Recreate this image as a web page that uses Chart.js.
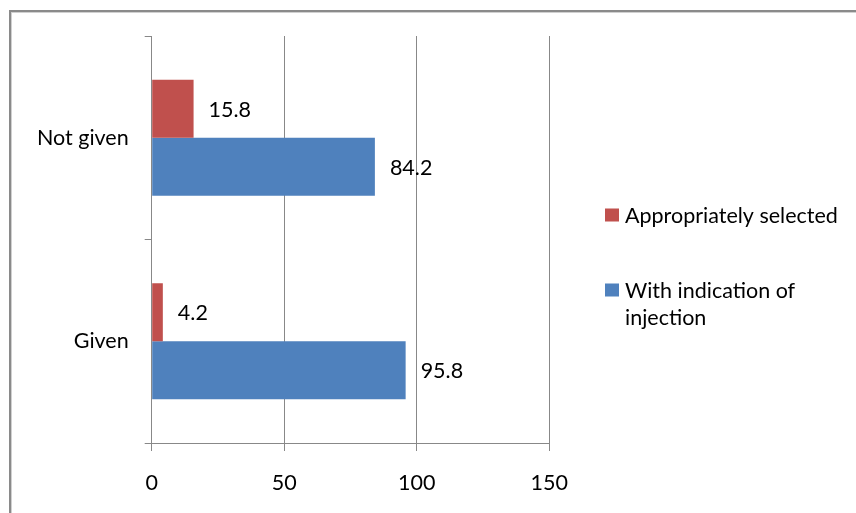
<!DOCTYPE html>
<html>
<head>
<meta charset="utf-8">
<script src="https://cdn.jsdelivr.net/npm/chart.js@4/dist/chart.umd.min.js"></script>
<style>
  html, body { margin: 0; padding: 0; background: #fff; }
  #wrap { position: relative; width: 856px; height: 513px; overflow: hidden; }
  #frame {
    position: absolute; left: 9px; top: 10px; width: 900px; height: 560px;
    border-left: 2px solid #8a8a8a; border-top: 2px solid #8a8a8a;
    box-shadow: inset 1px 1px 0 #d0d0d0;
  }
  canvas { position: absolute; left: 0; top: 0; }
</style>
</head>
<body>
<div id="wrap">
  <div id="frame"></div>
  <canvas id="chart" width="856" height="513"></canvas>
</div>
<script>
// Categories, series and axis ticks
const categories = ['Not given', 'Given'];
const appropriatelySelected = [15.8, 4.2];
const withIndication = [84.2, 95.8];
const seriesNames = ['Appropriately selected', 'With indication of injection'];
const xTicks = [0, 50, 100, 150];

const FONT = { family: 'Lato, "Open Sans", sans-serif', size: 21.5 };
const AXIS_GREY = '#888888';

// Value labels to the right of each bar
const valueLabels = {
  id: 'valueLabels',
  afterDatasetsDraw(chart) {
    const ctx = chart.ctx;
    ctx.save();
    ctx.font = `${FONT.size}px ${FONT.family}`;
    ctx.fillStyle = '#000';
    ctx.textAlign = 'left';
    ctx.textBaseline = 'middle';
    chart.data.datasets.forEach((ds, di) => {
      chart.getDatasetMeta(di).data.forEach((bar, i) => {
        ctx.fillText(String(ds.data[i]), bar.x + 15, bar.y + 1);
      });
    });
    ctx.restore();
  }
};

// Legend at the right with wrapped series names
const sideLegend = {
  id: 'sideLegend',
  afterDraw(chart) {
    const ctx = chart.ctx;
    const boxX = 605, textX = 625, maxW = 225, lineH = 27;
    const firstY = 215, gap = 75;
    ctx.save();
    ctx.font = `${FONT.size}px ${FONT.family}`;
    ctx.textAlign = 'left';
    ctx.textBaseline = 'middle';
    let y = firstY;
    chart.data.datasets.forEach(ds => {
      // wrap the name into lines no wider than maxW
      const words = ds.label.split(' ');
      const lines = [];
      let cur = '';
      words.forEach(w => {
        const t = cur ? cur + ' ' + w : w;
        if (ctx.measureText(t).width > maxW && cur) { lines.push(cur); cur = w; }
        else cur = t;
      });
      lines.push(cur);
      ctx.fillStyle = ds.backgroundColor;
      ctx.fillRect(boxX, y - 6.5, 14, 13);
      ctx.fillStyle = '#000';
      lines.forEach((ln, k) => ctx.fillText(ln, textX, y + 1 + k * lineH));
      y += gap;
    });
    ctx.restore();
  }
};

new Chart(document.getElementById('chart'), {
  type: 'bar',
  data: {
    labels: categories,
    datasets: [
      { label: seriesNames[0], data: appropriatelySelected, backgroundColor: '#C0504D' },
      { label: seriesNames[1], data: withIndication, backgroundColor: '#4F81BD' }
    ]
  },
  options: {
    indexAxis: 'y',
    responsive: false,
    devicePixelRatio: 1,
    animation: false,
    categoryPercentage: 0.57,
    barPercentage: 1.0,
    layout: { padding: { top: 36, right: 306.7, left: 0, bottom: 0 } },
    plugins: { legend: { display: false }, tooltip: { enabled: false } },
    scales: {
      x: {
        min: xTicks[0],
        max: xTicks[xTicks.length - 1],
        afterBuildTicks(scale) { scale.ticks = xTicks.map(v => ({ value: v })); },
        afterFit(scale) { scale.height = 70; },
        ticks: { font: FONT, color: '#000', padding: 19, maxRotation: 0 },
        grid: { color: AXIS_GREY, tickLength: 8, lineWidth: 1 },
        border: { color: AXIS_GREY }
      },
      y: {
        afterFit(scale) { scale.width = 151.7; },
        ticks: { font: FONT, color: '#000', padding: 16 },
        grid: { drawOnChartArea: false, color: AXIS_GREY, tickLength: 7, offset: true },
        border: { color: AXIS_GREY }
      }
    }
  },
  plugins: [valueLabels, sideLegend]
});
</script>
</body>
</html>
